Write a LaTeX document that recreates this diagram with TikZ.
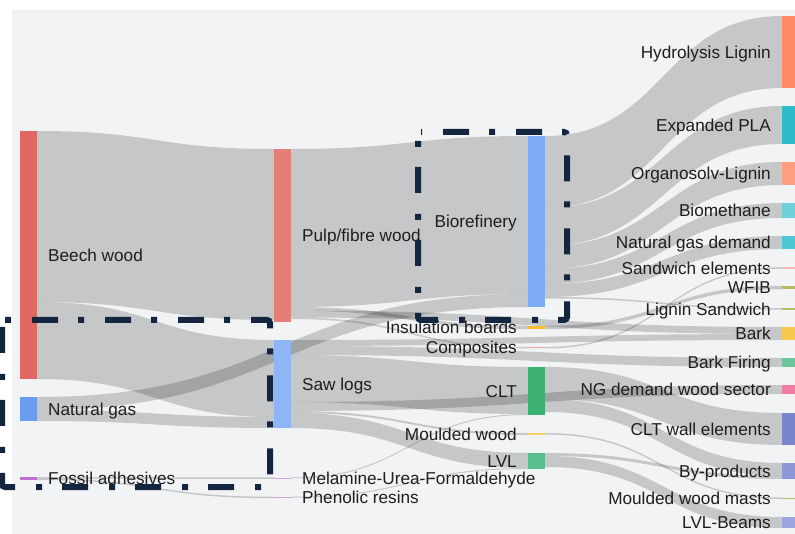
\documentclass[tikz,border=0pt]{standalone}
\usepackage{fontspec}
\setmainfont{Liberation Sans}
\usetikzlibrary{calc}
\pgfdeclarelayer{back}
\pgfdeclarelayer{flows}
\pgfsetlayers{back,flows,main}

\definecolor{plotbg}{HTML}{F2F3F5}
\definecolor{txtc}{HTML}{1E1E1E}
\definecolor{boxc}{HTML}{13253F}
\definecolor{beechc}{HTML}{E06860}
\definecolor{pulpc}{HTML}{E57E76}
\definecolor{gasc}{HTML}{6A9CF2}
\definecolor{sawc}{HTML}{8EB5F5}
\definecolor{biorefc}{HTML}{7EABF6}
\definecolor{fossilc}{HTML}{C070D0}
\definecolor{resinc}{HTML}{DA9AE4}
\definecolor{insulc}{HTML}{F4BE2E}
\definecolor{composc}{HTML}{F2A6A0}
\definecolor{mouldc}{HTML}{F5D26A}
\definecolor{cltc}{HTML}{3BB273}
\definecolor{lvlc}{HTML}{58C08C}
\definecolor{hydroc}{HTML}{FF8A68}
\definecolor{plac}{HTML}{2EBCCB}
\definecolor{organoc}{HTML}{FF9F82}
\definecolor{biomethc}{HTML}{6ED0DB}
\definecolor{ngdemc}{HTML}{4EC7D5}
\definecolor{sandwc}{HTML}{F6B9B2}
\definecolor{olivec}{HTML}{BABA64}
\definecolor{barkc}{HTML}{F7C74F}
\definecolor{barkfirec}{HTML}{6DC59E}
\definecolor{ngwoodc}{HTML}{F27DA2}
\definecolor{cltwallc}{HTML}{7A86CC}
\definecolor{byprodc}{HTML}{8D97D8}
\definecolor{lvlbeamc}{HTML}{9BA6DF}

\tikzset{>=latex,
  bar/.style={rectangle, inner sep=0pt, outer sep=0pt, minimum width=17pt, draw=none},
  lab/.style={font=\fontsize{17.2}{20}\selectfont, text=txtc, inner sep=0pt,
    text height=12.3pt, text depth=0pt, label distance=11pt},
  link/.style={fill=black, fill opacity=0.18},
  hibox/.style={draw=boxc, line width=6pt, rounded corners=3pt,
    dash pattern=on 26pt off 20pt on 6pt off 21pt}}

% band from #1 (offset #2 below its top) to #3 (offset #4), width #5
\newcommand{\flowband}[5]{%
  \fill[link] let \p1=($(#1.north east)+(0,#2)$), \p2=($(#3.north west)+(0,#4)$) in
    (\p1) .. controls ({0.5*(\x1+\x2)},\y1) and ({0.5*(\x1+\x2)},\y2) .. (\p2)
    -- (\x2,{\y2-#5pt}) .. controls ({0.5*(\x1+\x2)},{\y2-#5pt}) and ({0.5*(\x1+\x2)},{\y1-#5pt}) .. (\x1,{\y1-#5pt})
    -- cycle;}

\begin{document}
\begin{tikzpicture}[x=1pt, y=-1pt]
  \def\colA{28.5}
  \def\colB{282.5}
  \def\colC{536.5}
  \def\colD{790.5}

  \useasboundingbox (0,0) rectangle (795,534);
  \begin{pgfonlayer}{back}
    \fill[white] (0,0) rectangle (795,534);
    \fill[plotbg] (12,10) rectangle (795,534);
  \end{pgfonlayer}

  % raw material
  \node[bar, fill=beechc, minimum height=248pt, label={[lab]right:Beech wood}]
    (beech) at (\colA,255) {};
  \node[bar, fill=gasc, minimum height=24pt, label={[lab]right:Natural gas}]
    (gas) at (\colA,409) {};
  \node[bar, fill=fossilc, minimum height=3pt, label={[lab]right:Fossil adhesives}]
    (fossil) at (\colA,478.5) {};

  % assortments
  \node[bar, fill=pulpc, minimum height=173pt, label={[lab]right:Pulp/fibre wood}]
    (pulp) at (\colB,235.5) {};
  \node[bar, fill=sawc, minimum height=88pt, label={[lab]right:Saw logs}]
    (saw) at (\colB,384) {};
  \node[bar, fill=resinc, minimum height=1.5pt, label={[lab]right:Melamine-Urea-Formaldehyde}]
    (muf) at (\colB,478.25) {};
  \node[bar, fill=resinc, minimum height=1.5pt, label={[lab]right:Phenolic resins}]
    (pf) at (\colB,497.5) {};

  % processes
  \node[bar, fill=biorefc, minimum height=171pt, label={[lab]left:Biorefinery}]
    (bioref) at (\colC,221.5) {};
  \node[bar, fill=insulc, minimum height=3.5pt, label={[lab]left:Insulation boards}]
    (insul) at (\colC,327.5) {};
  \node[bar, fill=composc, minimum height=1.5pt, label={[lab]left:Composites}]
    (compos) at (\colC,347.75) {};
  \node[bar, fill=cltc, minimum height=48pt, label={[lab]left:CLT}]
    (clt) at (\colC,391) {};
  \node[bar, fill=mouldc, minimum height=2pt, label={[lab]left:Moulded wood}]
    (moulded) at (\colC,434) {};
  \node[bar, fill=lvlc, minimum height=16pt, label={[lab]left:LVL}]
    (lvl) at (\colC,461) {};

  % products
  \node[bar, fill=hydroc, minimum height=72pt, label={[lab]left:Hydrolysis Lignin}]
    (hydro) at (\colD,52) {};
  \node[bar, fill=plac, minimum height=38pt, label={[lab]left:Expanded PLA}]
    (pla) at (\colD,125) {};
  \node[bar, fill=organoc, minimum height=23pt, label={[lab]left:Organosolv-Lignin}]
    (organo) at (\colD,173.5) {};
  \node[bar, fill=biomethc, minimum height=15pt, label={[lab]left:Biomethane}]
    (biometh) at (\colD,210.5) {};
  \node[bar, fill=ngdemc, minimum height=13pt, label={[lab]left:Natural gas demand}]
    (ngdem) at (\colD,242.5) {};
  \node[bar, fill=sandwc, minimum height=1.5pt, label={[lab]left:Sandwich elements}]
    (sandw) at (\colD,268) {};
  \node[bar, fill=olivec, minimum height=3.5pt, label={[lab]left:WFIB}]
    (wfib) at (\colD,287.5) {};
  \node[bar, fill=olivec, minimum height=1.5pt, label={[lab]left:Lignin Sandwich}]
    (ligsand) at (\colD,309) {};
  \node[bar, fill=barkc, minimum height=13pt, label={[lab]left:Bark}]
    (bark) at (\colD,333.5) {};
  \node[bar, fill=barkfirec, minimum height=9pt, label={[lab]left:Bark Firing}]
    (barkfire) at (\colD,362.5) {};
  \node[bar, fill=ngwoodc, minimum height=9pt, label={[lab]left:NG demand wood sector}]
    (ngwood) at (\colD,389.5) {};
  \node[bar, fill=cltwallc, minimum height=32pt, label={[lab]left:CLT wall elements}]
    (cltwall) at (\colD,429) {};
  \node[bar, fill=byprodc, minimum height=16pt, label={[lab]left:By-products}]
    (byprod) at (\colD,471) {};
  \node[bar, fill=olivec, minimum height=1.5pt, label={[lab]left:Moulded wood masts}]
    (masts) at (\colD,498.25) {};
  \node[bar, fill=lvlbeamc, minimum height=11pt, label={[lab]left:LVL-Beams}]
    (lvlbeam) at (\colD,522.5) {};

  \begin{pgfonlayer}{flows}
    % wood and gas
    \flowband{beech}{0}{pulp}{0}{171}
    \flowband{beech}{171}{saw}{0}{77}
    \flowband{gas}{0}{bioref}{158}{13}
    \flowband{gas}{13}{saw}{77}{11}
    \flowband{fossil}{0}{muf}{0}{1.5}
    \flowband{fossil}{1.5}{pf}{0}{1.5}

    % pulp/fibre wood
    \flowband{pulp}{0}{bioref}{0}{158}
    \flowband{pulp}{158}{insul}{0}{3.5}
    \flowband{pulp}{161.5}{bark}{0}{7}
    \flowband{pulp}{168.5}{compos}{0}{1.5}

    % saw logs
    \flowband{saw}{0}{bark}{7}{6}
    \flowband{saw}{6}{barkfire}{0}{9}
    \flowband{saw}{15}{clt}{0}{47}
    \flowband{saw}{62}{ngwood}{0}{9}
    \flowband{saw}{71}{moulded}{0}{2}
    \flowband{saw}{73}{lvl}{0}{15}
    \flowband{muf}{0}{clt}{47}{1}
    \flowband{pf}{0}{lvl}{15}{1}

    % biorefinery
    \flowband{bioref}{0}{hydro}{0}{72}
    \flowband{bioref}{72}{pla}{0}{38}
    \flowband{bioref}{110}{organo}{0}{23}
    \flowband{bioref}{133}{biometh}{0}{15}
    \flowband{bioref}{148}{ngdem}{0}{13}
    \flowband{bioref}{161}{ligsand}{0}{1.5}

    % wood products
    \flowband{insul}{0}{wfib}{0}{3.5}
    \flowband{compos}{0}{sandw}{0}{1.5}
    \flowband{clt}{0}{cltwall}{0}{32}
    \flowband{clt}{32}{byprod}{0}{13}
    \flowband{lvl}{0}{byprod}{13}{3}
    \flowband{lvl}{3}{lvlbeam}{0}{11}
    \flowband{moulded}{0}{masts}{0}{1.5}
  \end{pgfonlayer}

  % highlighted parts
  \draw[hibox, dash phase=46pt] (2,320) -- (270,320) -- (270,487) -- (2,487) -- cycle;
  \draw[hibox, dash phase=51pt] (418,132) -- (567,132) -- (567,320) -- (418,320) -- cycle;
\end{tikzpicture}
\end{document}
